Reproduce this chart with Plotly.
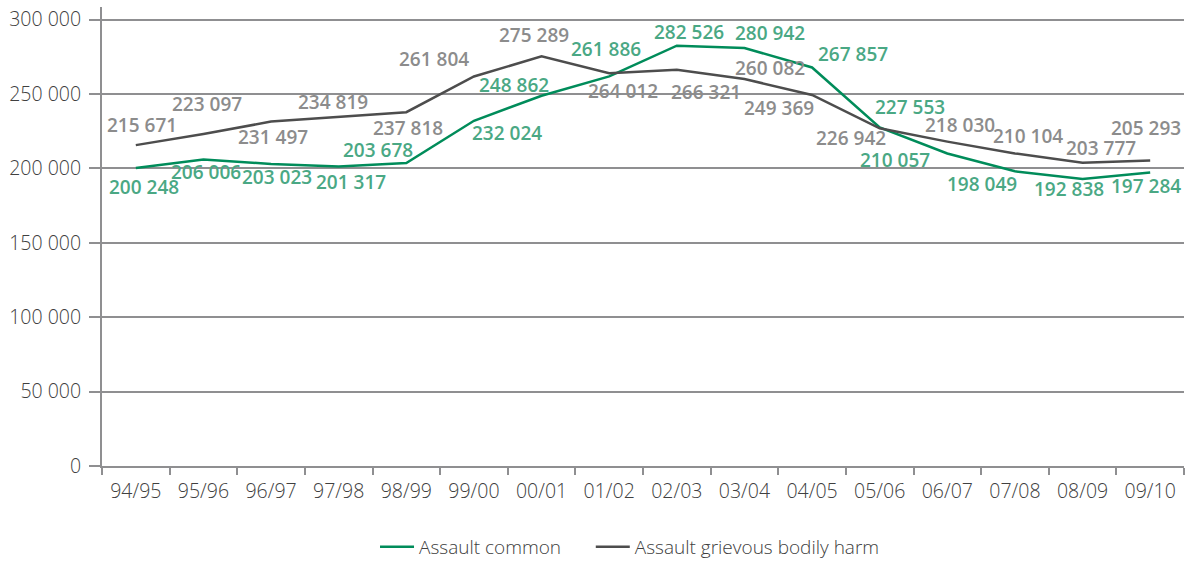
import plotly.graph_objects as go

years = ["94/95", "95/96", "96/97", "97/98", "98/99", "99/00", "00/01", "01/02",
         "02/03", "03/04", "04/05", "05/06", "06/07", "07/08", "08/09", "09/10"]
assault_common = [200248, 206006, 203023, 201317, 203678, 232024, 248862, 261886,
                  282526, 280942, 267857, 227553, 210057, 198049, 192838, 197284]
assault_gbh = [215671, 223097, 231497, 234819, 237818, 261804, 275289, 264012,
               266321, 260082, 249369, 226942, 218030, 210104, 203777, 205293]

# label offsets (px) relative to each point: (dx, dy) with dy positive = down
common_off = [(8, 19), (3, 12), (6, 13), (12, 16), (-28, -13), (33, 12), (-28, -11), (-3, -27),
              (12, -14), (26, -15), (41, -13), (30, -20), (-52, 7), (-33, 13), (-14, 10), (-4, 14)]
gbh_off = [(6, -20), (4, -30), (2, 15), (-6, -15), (2, 16), (-40, -17), (-8, -21), (14, 18),
           (29, 22), (26, -11), (-33, 13), (-29, 10), (13, -17), (13, -17), (18, -15), (-4, -33)]

GREEN = "#008c5a"
GREEN_LBL = "#4aa884"
DARK = "#4d4d4d"
GREY_LBL = "#8c8c8c"
AXIS = "#8f8f91"
TXT = "#404040"
FONT = "Open Sans"


def fmt(v):
    return f"{v:,}".replace(",", " ")


fig = go.Figure()
fig.add_trace(go.Scatter(x=years, y=assault_common, mode="lines",
                         name="Assault common" + "\u00a0" * 5,
                         line=dict(color=GREEN, width=2.5)))
fig.add_trace(go.Scatter(x=years, y=assault_gbh, mode="lines", name="Assault grievous bodily harm",
                         line=dict(color=DARK, width=2.5)))

annotations = []
for yr, v, (dx, dy) in zip(years, assault_gbh, gbh_off):
    annotations.append(dict(x=yr, y=v, xref="x", yref="y", text=fmt(v), showarrow=False,
                            xshift=dx, yshift=-dy,
                            font=dict(family=FONT, size=19, color=GREY_LBL, weight=600)))
for yr, v, (dx, dy) in zip(years, assault_common, common_off):
    annotations.append(dict(x=yr, y=v, xref="x", yref="y", text=fmt(v), showarrow=False,
                            xshift=dx, yshift=-dy,
                            font=dict(family=FONT, size=19, color=GREEN_LBL, weight=600)))

fig.update_layout(
    width=1190, height=561,
    margin=dict(l=102, r=6, t=7, b=95),
    paper_bgcolor="white", plot_bgcolor="white",
    separators=". ",
    font=dict(family=FONT, size=19, color=TXT),
    annotations=annotations,
    showlegend=True,
    legend=dict(orientation="h", x=0.488, xanchor="center", yref="container", y=0.025,
                yanchor="middle", font=dict(family=FONT, size=19, color=TXT, weight=300),
                itemwidth=34, tracegroupgap=0),
    xaxis=dict(type="category", range=[-0.5, 15.5], tickson="boundaries", ticks="outside",
               ticklen=7, tickwidth=2, tickcolor=AXIS, showline=True, linecolor=AXIS,
               linewidth=2, showgrid=False, zeroline=False, ticklabelstandoff=7,
               tickfont=dict(family=FONT, size=19.5, color=TXT, weight=300)),
    yaxis=dict(range=[0, 308500], tickvals=[0, 50000, 100000, 150000, 200000, 250000, 300000],
               tickformat=",d", ticks="outside", ticklen=11, tickwidth=2, tickcolor=AXIS,
               showline=True, linecolor=AXIS, linewidth=2, showgrid=True, gridcolor=AXIS,
               gridwidth=1.5, zeroline=False, ticklabelstandoff=4,
               tickfont=dict(family=FONT, size=19.5, color=TXT, weight=300)),
)

fig.write_html("out.html", config={"displayModeBar": False},
               post_script="document.body.style.margin='0';")
